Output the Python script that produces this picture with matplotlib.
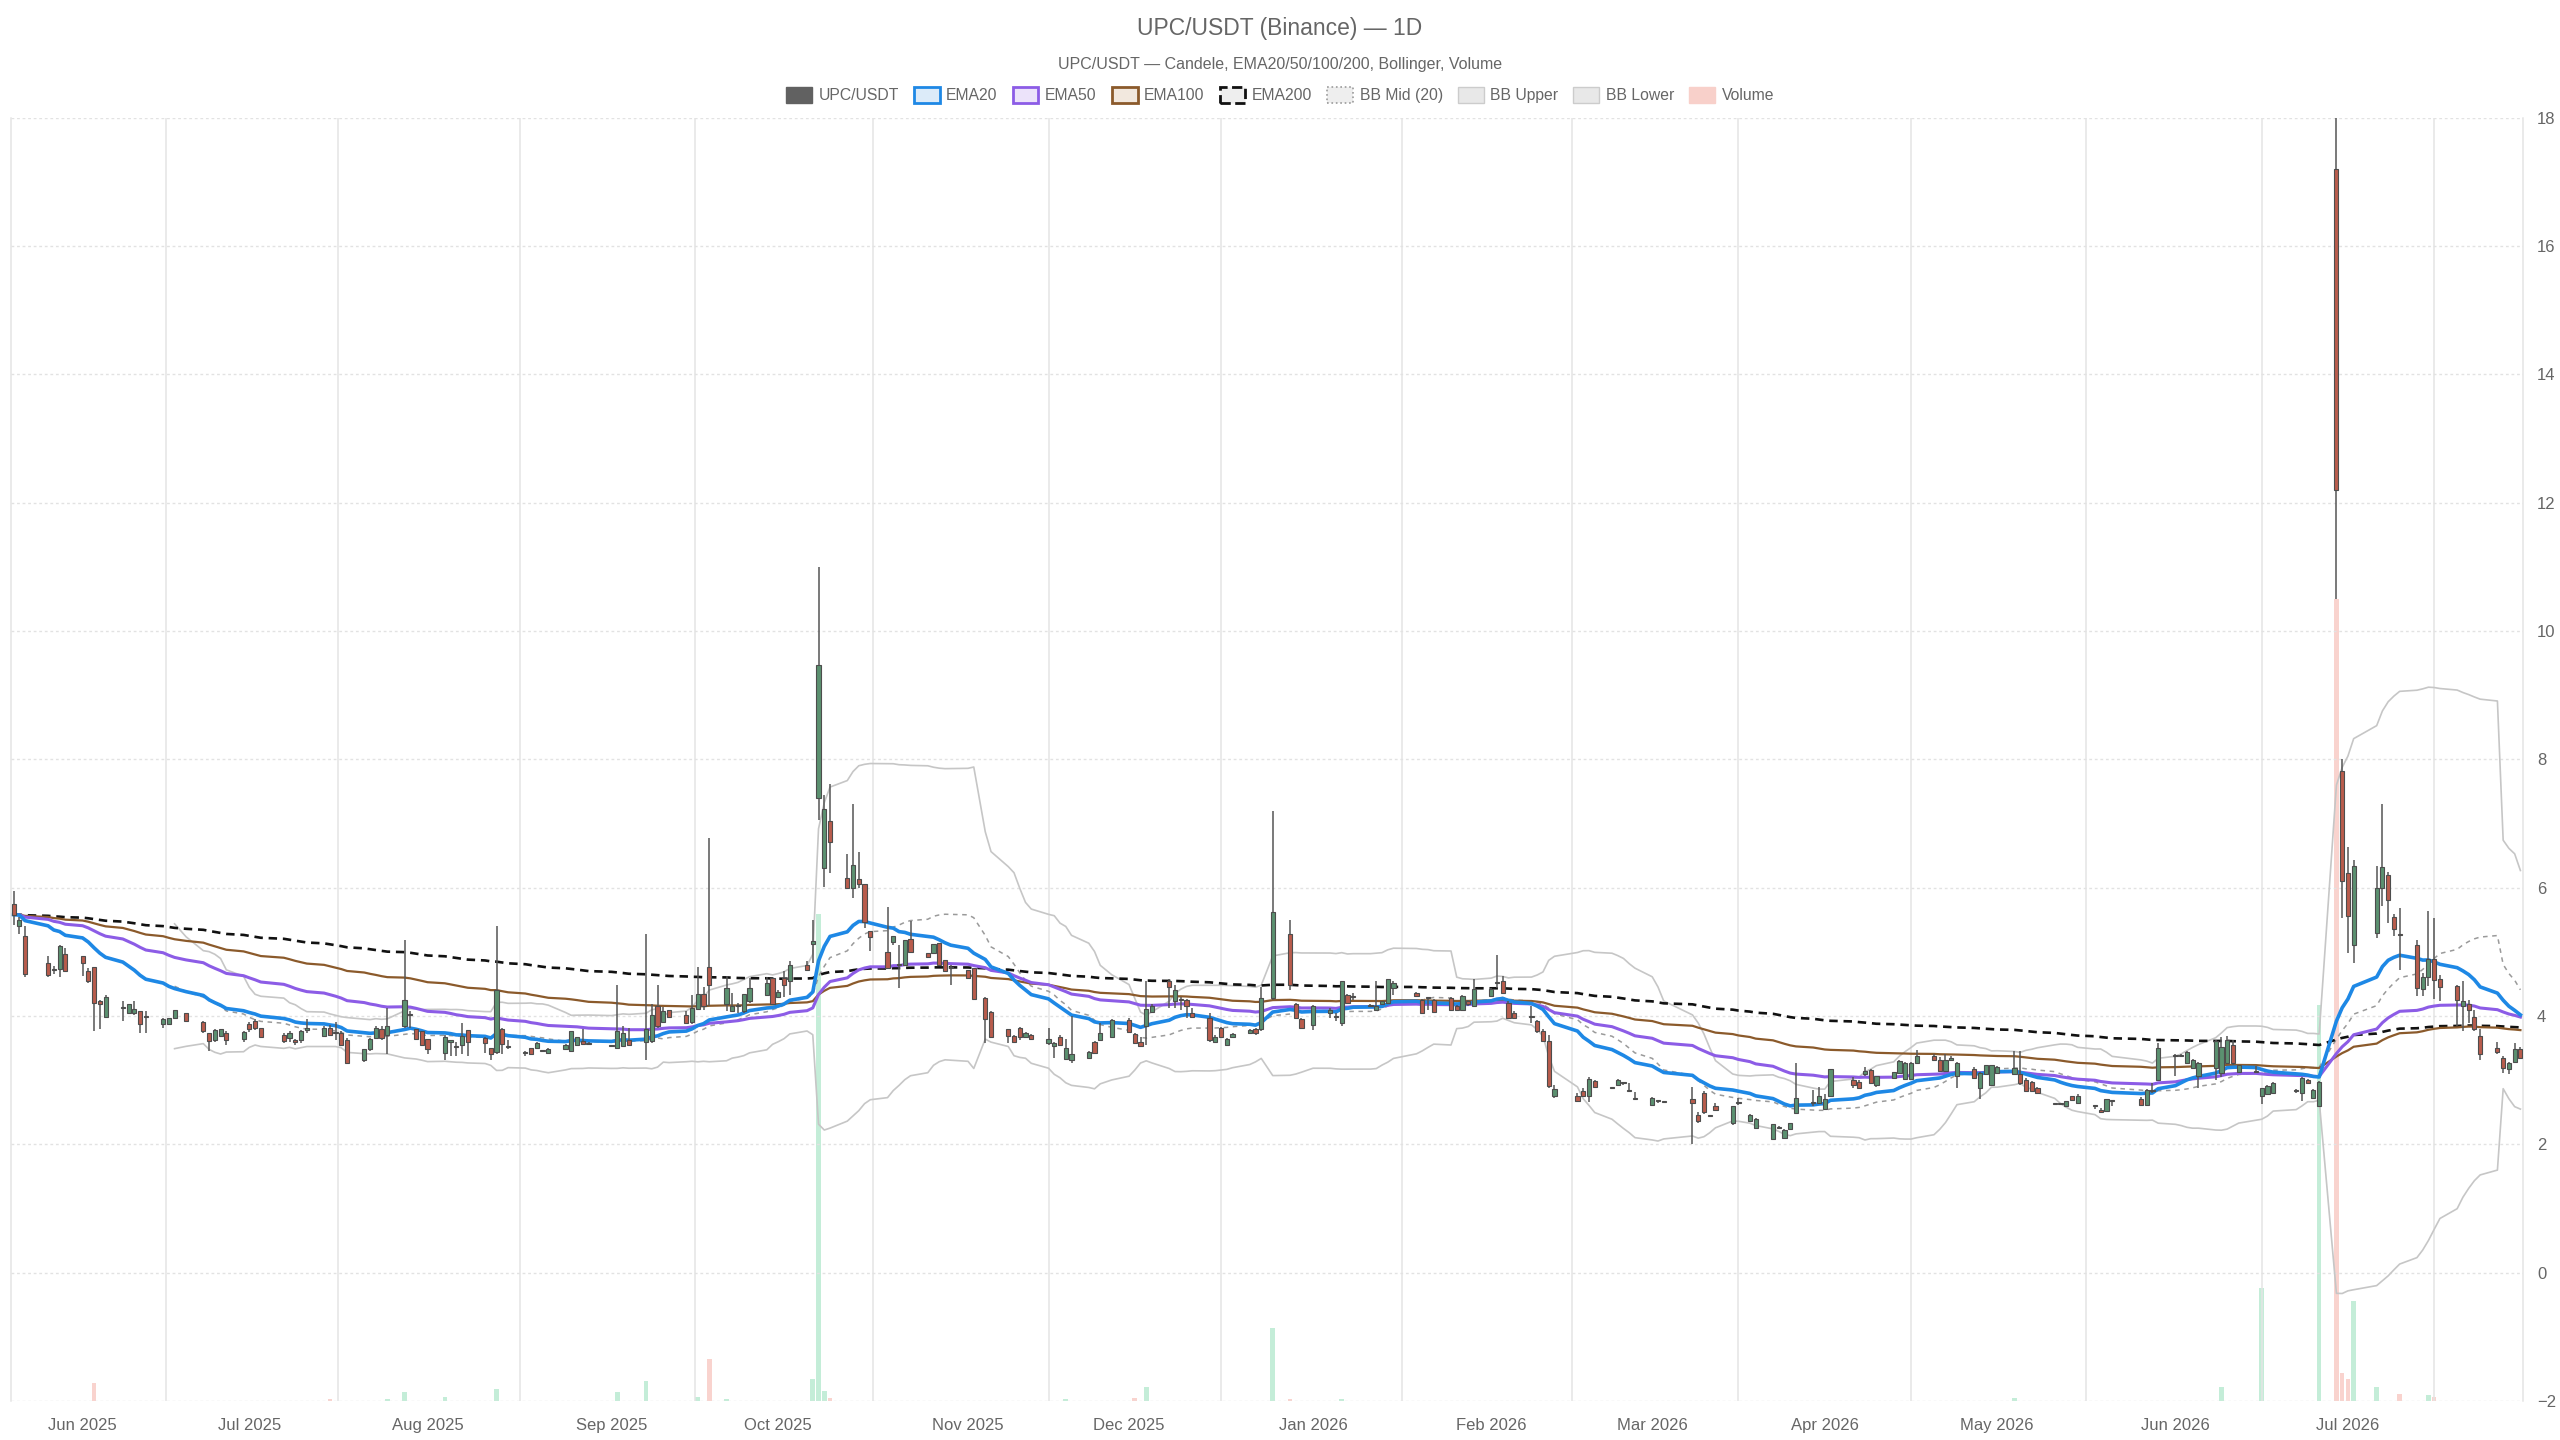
import pandas as pd
import numpy as np
import matplotlib
matplotlib.use('Agg')
import matplotlib.pyplot as plt
from matplotlib.patches import Patch

plt.rcParams['font.family'] = ['Liberation Sans', 'DejaVu Sans']

# trading days (weekdays, minus market holidays and days without data)
start = '2025-05-21'
end = '2026-07-31'
holidays = ['2025-05-26', '2025-06-19', '2025-07-04', '2025-09-01', '2025-11-27',
            '2025-12-25', '2026-01-01', '2026-01-19', '2026-02-16', '2026-04-03',
            '2026-05-25', '2026-06-19', '2026-07-03']
no_data = ['2025-11-05', '2026-03-05', '2026-03-06', '2026-03-18', '2026-05-22']

# one line per week
opens = [
    5.75, 5.41, 5.25,
    4.83, 4.72, 4.73, 4.96,
    4.93, 4.70, 4.77, 4.23, 3.99,
    4.13, 4.05, 4.05, 4.08, 3.99,
    3.88, 3.87, 3.97, 4.05,
    3.90, 3.74, 3.63, 3.69, 3.73,
    3.64, 3.88, 3.92, 3.81,
    3.71, 3.66, 3.63, 3.63, 3.78,
    3.69, 3.81, 3.73, 3.74, 3.63,
    3.31, 3.48, 3.66, 3.79, 3.71,
    3.84, 4.01, 3.80, 3.76, 3.64,
    3.42, 3.60, 3.52, 3.55, 3.78,
    3.65, 3.50, 3.44, 3.79, 3.51,
    3.43, 3.50, 3.50, 3.45, 3.43,
    3.49, 3.45, 3.55, 3.61, 3.57,
    3.53, 3.50, 3.53, 3.62,
    3.59, 3.61, 4.15, 3.91, 4.10,
    4.01, 3.90, 4.11, 4.34, 4.77,
    4.18, 4.07, 4.15, 4.07, 4.23,
    4.33, 4.59, 4.29, 4.59, 4.55,
    4.80, 5.12, 7.40, 6.30, 7.04,
    6.15, 5.99, 6.13, 6.05, 5.32,
    5.00, 5.16, 4.80, 4.80, 5.20,
    4.98, 4.98, 5.14, 4.88, 4.75,
    4.72, 4.75, 4.28, 4.06,
    3.80, 3.69, 3.81, 3.67, 3.71,
    3.58, 3.53, 3.67, 3.33, 3.32,
    3.35, 3.59, 3.63, 3.68,
    3.93, 3.72, 3.59, 3.84, 4.06,
    4.54, 4.23, 4.25, 4.25, 4.04,
    3.97, 3.60, 3.81, 3.55, 3.67,
    3.73, 3.79, 3.79, 4.28,
    5.27, 4.18, 3.95, 3.86,
    4.05, 3.98, 3.89, 4.32, 4.30,
    4.16, 4.09, 4.19, 4.21, 4.44,
    4.36, 4.25, 4.28, 4.25,
    4.28, 4.15, 4.10, 4.23, 4.16,
    4.31, 4.52, 4.55, 4.21, 4.05,
    3.98, 3.92, 3.76, 3.61, 2.75,
    2.76, 2.83, 2.75, 2.98,
    2.88, 2.93, 2.95, 2.83, 2.71,
    2.62, 2.67, 2.66,
    2.71, 2.45, 2.80, 2.44, 2.60,
    2.33, 2.65, 2.36, 2.26,
    2.08, 2.26, 2.10, 2.24, 2.49,
    2.65, 2.64, 2.55, 2.75,
    3.01, 2.97, 3.09, 3.16, 2.92,
    3.04, 3.11, 3.02, 3.02, 3.26,
    3.38, 3.32, 3.14, 3.32, 3.06,
    3.18, 2.88, 3.09, 2.93, 3.11,
    3.09, 3.09, 3.01, 2.97, 2.88,
    2.63, 2.63, 2.60, 2.75, 2.65,
    2.59, 2.54, 2.52, 2.67,
    2.71, 2.62, 2.83, 3.00,
    3.37, 3.38, 3.27, 3.19, 3.06,
    3.19, 3.11, 3.27, 3.54, 3.12,
    3.13, 2.75, 2.79, 2.80,
    2.83, 2.80, 3.01, 2.72, 2.59,
    17.2, 7.81, 6.23, 5.10,
    5.30, 5.99, 6.19, 5.54, 5.27,
    5.11, 4.42, 4.61, 4.89, 4.58,
    4.46, 4.15, 4.19, 3.99, 3.69,
    3.50, 3.35, 3.17, 3.29, 3.49,
]
highs = [
    5.94, 5.55, 5.40,
    4.93, 4.78, 5.11, 5.06,
    4.93, 4.74, 4.77, 4.25, 4.33,
    4.23, 4.18, 4.24, 4.08, 4.07,
    3.97, 3.97, 4.10, 4.05,
    3.92, 3.74, 3.80, 3.80, 3.76,
    3.77, 3.90, 3.95, 3.82,
    3.73, 3.76, 3.64, 3.78, 3.95,
    3.84, 3.86, 3.91, 3.76, 3.65,
    3.48, 3.66, 3.84, 3.84, 4.13,
    5.18, 4.07, 3.80, 3.77, 3.64,
    3.70, 3.63, 3.60, 3.89, 3.78,
    3.68, 3.50, 5.40, 3.81, 3.63,
    3.45, 3.50, 3.60, 3.47, 3.50,
    3.56, 3.77, 3.67, 3.79, 3.60,
    3.55, 4.49, 3.84, 3.82,
    5.27, 4.18, 4.49, 4.14, 4.10,
    4.07, 4.33, 4.77, 4.45, 6.78,
    4.62, 4.36, 4.20, 4.34, 4.59,
    4.60, 4.59, 4.40, 4.70, 4.85,
    4.86, 5.50, 11.0, 7.45, 7.62,
    6.53, 7.30, 6.56, 6.05, 5.32,
    5.70, 5.24, 5.11, 5.19, 5.48,
    4.98, 5.12, 5.14, 4.88, 4.80,
    4.72, 4.75, 4.30, 4.08,
    3.80, 3.70, 3.83, 3.75, 3.72,
    3.81, 3.60, 3.70, 3.64, 4.00,
    3.46, 3.61, 3.89, 3.95,
    3.97, 3.74, 3.68, 4.54, 4.18,
    4.57, 4.49, 4.30, 4.27, 4.12,
    4.05, 3.70, 3.83, 3.66, 3.74,
    3.80, 3.81, 4.45, 7.19,
    5.50, 4.20, 3.97, 4.17,
    4.12, 4.04, 4.55, 4.35, 4.36,
    4.18, 4.54, 4.24, 4.58, 4.54,
    4.38, 4.27, 4.30, 4.27,
    4.30, 4.17, 4.32, 4.25, 4.57,
    4.44, 4.95, 4.62, 4.23, 4.07,
    4.15, 3.94, 3.80, 3.70, 2.93,
    2.80, 2.87, 3.05, 3.00,
    2.90, 3.02, 2.97, 2.96, 2.81,
    2.73, 2.69, 2.68,
    2.90, 2.50, 2.83, 2.46, 2.65,
    2.60, 2.72, 2.47, 2.41,
    2.32, 2.28, 2.24, 2.34, 3.27,
    2.85, 2.90, 2.78, 3.18,
    3.05, 3.00, 3.20, 3.18, 3.07,
    3.13, 3.32, 3.28, 3.28, 3.47,
    3.40, 3.36, 3.40, 3.38, 3.29,
    3.20, 3.12, 3.24, 3.24, 3.22,
    3.45, 3.45, 3.03, 2.99, 2.90,
    2.65, 2.65, 2.68, 2.76, 2.78,
    2.62, 2.56, 2.71, 2.69,
    2.73, 2.86, 2.96, 3.58,
    3.40, 3.40, 3.45, 3.33, 3.28,
    3.63, 3.67, 3.69, 3.62, 3.24,
    3.22, 2.88, 2.92, 2.97,
    2.86, 3.05, 3.02, 2.86, 2.99,
    18.0, 8.00, 6.64, 6.43,
    6.34, 7.31, 6.25, 5.59, 5.68,
    5.19, 4.67, 5.63, 5.53, 4.64,
    4.49, 4.54, 4.25, 4.10, 3.79,
    3.60, 3.37, 3.28, 3.58, 3.52,
]
lows = [
    5.42, 5.28, 4.61,
    4.61, 4.66, 4.61, 4.68,
    4.62, 4.52, 3.76, 3.80, 3.99,
    3.92, 4.05, 4.02, 3.74, 3.74,
    3.81, 3.87, 3.97, 3.92,
    3.74, 3.45, 3.60, 3.67, 3.55,
    3.60, 3.75, 3.78, 3.65,
    3.58, 3.60, 3.55, 3.58, 3.73,
    3.67, 3.69, 3.63, 3.55, 3.25,
    3.29, 3.45, 3.64, 3.63, 3.40,
    3.81, 3.81, 3.63, 3.54, 3.40,
    3.32, 3.37, 3.37, 3.40, 3.37,
    3.42, 3.32, 3.40, 3.40, 3.48,
    3.37, 3.40, 3.50, 3.44, 3.42,
    3.48, 3.45, 3.55, 3.56, 3.56,
    3.52, 3.50, 3.51, 3.55,
    3.32, 3.58, 3.81, 3.89, 3.97,
    3.89, 3.88, 4.09, 4.10, 4.16,
    4.08, 4.07, 4.05, 4.05, 4.20,
    4.31, 4.19, 4.29, 4.30, 4.33,
    4.70, 4.83, 7.05, 6.01, 6.23,
    5.99, 5.84, 6.00, 5.37, 5.02,
    4.73, 5.10, 4.44, 4.78, 4.99,
    4.92, 4.98, 4.78, 4.70, 4.49,
    4.59, 4.26, 3.58, 3.65,
    3.58, 3.58, 3.63, 3.65, 3.62,
    3.55, 3.35, 3.53, 3.32, 3.27,
    3.33, 3.40, 3.61, 3.66,
    3.73, 3.56, 3.52, 3.55, 4.04,
    4.12, 4.12, 4.10, 3.97, 3.97,
    3.60, 3.58, 3.65, 3.53, 3.66,
    3.72, 3.70, 3.76, 4.25,
    4.40, 3.95, 3.79, 3.78,
    3.97, 3.92, 3.84, 4.20, 4.25,
    4.14, 4.08, 4.18, 4.20, 4.33,
    4.29, 4.04, 4.10, 4.04,
    4.08, 4.08, 4.08, 4.16, 4.15,
    4.29, 4.43, 4.34, 3.95, 3.95,
    3.89, 3.74, 3.60, 2.88, 2.72,
    2.66, 2.74, 2.66, 2.89,
    2.86, 2.92, 2.93, 2.81, 2.69,
    2.61, 2.65, 2.64,
    2.01, 2.33, 2.48, 2.42, 2.52,
    2.30, 2.62, 2.35, 2.25,
    2.07, 2.24, 2.09, 2.23, 2.48,
    2.60, 2.63, 2.54, 2.74,
    2.88, 2.86, 3.07, 2.94, 2.90,
    3.02, 3.10, 3.01, 3.01, 3.25,
    3.30, 3.12, 3.12, 3.30, 2.88,
    3.03, 2.70, 3.08, 2.92, 3.10,
    3.08, 2.93, 2.82, 2.82, 2.78,
    2.61, 2.61, 2.59, 2.68, 2.64,
    2.55, 2.50, 2.51, 2.59,
    2.61, 2.61, 2.80, 2.98,
    3.06, 3.36, 3.26, 3.18, 2.88,
    3.00, 3.05, 3.25, 3.24, 3.11,
    3.11, 2.63, 2.78, 2.79,
    2.80, 2.67, 2.95, 2.71, 2.58,
    10.5, 5.53, 4.98, 4.82,
    5.22, 5.72, 5.45, 5.24, 4.72,
    4.31, 4.31, 4.46, 4.26, 4.23,
    3.84, 3.76, 3.89, 3.76, 3.32,
    3.40, 3.11, 3.10, 3.27, 3.33,
]
closes = [
    5.58, 5.50, 4.66,
    4.64, 4.72, 5.09, 4.70,
    4.83, 4.54, 4.21, 4.19, 4.30,
    4.13, 4.18, 4.11, 3.88, 3.99,
    3.95, 3.97, 4.10, 3.92,
    3.76, 3.61, 3.78, 3.79, 3.63,
    3.75, 3.79, 3.81, 3.68,
    3.61, 3.73, 3.59, 3.76, 3.81,
    3.81, 3.71, 3.73, 3.55, 3.26,
    3.48, 3.64, 3.81, 3.66, 3.84,
    4.25, 4.01, 3.64, 3.54, 3.48,
    3.68, 3.62, 3.52, 3.69, 3.59,
    3.58, 3.41, 4.40, 3.57, 3.51,
    3.43, 3.40, 3.58, 3.45, 3.49,
    3.55, 3.77, 3.67, 3.56, 3.57,
    3.53, 3.76, 3.74, 3.55,
    3.79, 4.01, 3.84, 4.07, 3.99,
    3.89, 4.13, 4.35, 4.15, 4.49,
    4.44, 4.15, 4.15, 4.34, 4.44,
    4.51, 4.19, 4.38, 4.49, 4.80,
    4.72, 5.17, 9.47, 7.23, 6.71,
    5.99, 6.36, 6.06, 5.46, 5.23,
    4.75, 5.24, 4.80, 5.19, 4.99,
    4.92, 5.12, 4.80, 4.70, 4.75,
    4.59, 4.26, 3.95, 3.67,
    3.69, 3.60, 3.67, 3.73, 3.64,
    3.64, 3.58, 3.55, 3.50, 3.40,
    3.44, 3.42, 3.74, 3.94,
    3.75, 3.58, 3.53, 4.11, 4.16,
    4.45, 4.41, 4.25, 4.16, 3.99,
    3.62, 3.68, 3.67, 3.64, 3.72,
    3.78, 3.73, 4.28, 5.62,
    4.48, 3.97, 3.81, 4.15,
    4.09, 3.98, 4.55, 4.21, 4.30,
    4.16, 4.16, 4.23, 4.58, 4.51,
    4.31, 4.05, 4.28, 4.06,
    4.10, 4.10, 4.31, 4.18, 4.42,
    4.42, 4.52, 4.36, 3.97, 3.97,
    3.98, 3.76, 3.61, 2.91, 2.86,
    2.67, 2.75, 3.02, 2.90,
    2.88, 3.00, 2.95, 2.83, 2.71,
    2.72, 2.67, 2.66,
    2.65, 2.36, 2.50, 2.44, 2.53,
    2.59, 2.65, 2.46, 2.40,
    2.31, 2.26, 2.23, 2.33, 2.72,
    2.65, 2.75, 2.71, 3.17,
    2.92, 2.88, 3.14, 2.95, 3.06,
    3.12, 3.30, 3.27, 3.26, 3.37,
    3.32, 3.14, 3.32, 3.35, 3.27,
    3.04, 3.11, 3.23, 3.23, 3.21,
    3.19, 2.96, 2.83, 2.83, 2.80,
    2.63, 2.63, 2.67, 2.69, 2.76,
    2.59, 2.51, 2.70, 2.67,
    2.62, 2.85, 2.83, 3.50,
    3.37, 3.38, 3.44, 3.32, 3.27,
    3.61, 3.52, 3.63, 3.26, 3.23,
    3.13, 2.88, 2.91, 2.96,
    2.83, 3.04, 2.96, 2.85, 2.97,
    12.2, 6.10, 5.56, 6.33,
    5.99, 6.32, 5.80, 5.35, 5.26,
    4.44, 4.61, 4.89, 4.56, 4.45,
    4.25, 4.23, 4.10, 3.79, 3.40,
    3.44, 3.19, 3.26, 3.48, 3.35,
]

# visible volume bars (thousands); the rest are too small to see
vol_dates = ['2025-06-04', '2025-07-15', '2025-07-25', '2025-07-28', '2025-08-04',
             '2025-08-13', '2025-09-03', '2025-09-08', '2025-09-17', '2025-09-19',
             '2025-09-22', '2025-10-07', '2025-10-08', '2025-10-09', '2025-10-10',
             '2025-11-20', '2025-12-02', '2025-12-04', '2025-12-26', '2025-12-29',
             '2026-01-07', '2026-05-04', '2026-06-09', '2026-06-16', '2026-06-26',
             '2026-06-29', '2026-06-30', '2026-07-01', '2026-07-02', '2026-07-06',
             '2026-07-10', '2026-07-15', '2026-07-16']
vol_values = [177, 23, 23, 90, 43, 123, 93, 197, 43, 423,
              20, 223, 4890, 100, 30, 17, 30, 137, 733, 23,
              23, 33, 143, 1130, 3970, 8050, 280, 220, 1000, 140,
              70, 60, 40]

# ---- prepare
t0 = pd.Timestamp(start)
dates = pd.bdate_range(start, end)
dates = dates[~dates.isin(pd.to_datetime(holidays + no_data))]
assert len(dates) == len(closes) == len(opens) == len(highs) == len(lows), (len(dates), len(closes))
x = np.asarray((dates - t0).days, dtype=float)

o = np.array(opens); h = np.array(highs); l = np.array(lows); c = np.array(closes)
s = pd.Series(c)
ema = {n: s.ewm(span=n, adjust=False).mean().values for n in (20, 50, 100, 200)}
bb_mid = s.rolling(20).mean()
bb_std = s.rolling(20).std(ddof=0)
bb_up = (bb_mid + 2 * bb_std).values
bb_lo = (bb_mid - 2 * bb_std).values
bb_mid = bb_mid.values

# month ticks sit on the first trading day of each month (from Jun 2025)
first_days = dates.to_series().groupby(dates.to_period('M')).first()
first_days = first_days[first_days.index >= pd.Period('2025-06', 'M')]
tick_x = [(d - t0).days for d in first_days]
tick_lab = [d.strftime('%b %Y') for d in first_days]

up_col, dn_col, flat_col = '#5b9170', '#b95c4c', '#8c8c8c'
edge_col = '#4d4d4d'

# ---- figure
fig = plt.figure(figsize=(25.6, 14.4), dpi=100)
rect = [11 / 2560, 1 - 1401 / 1440, (2523 - 11) / 2560, (1401 - 117.6) / 1440]
vax = fig.add_axes(rect)
ax = fig.add_axes(rect, sharex=vax)
ax.patch.set_visible(False)

# volume (own hidden scale)
idx = {d: i for i, d in enumerate(dates)}
vx, vcol = [], []
for d in pd.to_datetime(vol_dates):
    i = idx[d]
    vx.append(x[i])
    vcol.append((0.18, 0.75, 0.45, 0.28) if c[i] >= o[i] else (0.93, 0.38, 0.32, 0.28))
vax.bar(vx, vol_values, width=0.8, color=vcol, linewidth=0)
vax.set_ylim(0, max(vol_values) * 1.6)
vax.axis('off')

# grid: vertical lines halfway between month ticks (last one extrapolated)
grid_x = [(a + b) / 2 for a, b in zip(tick_x[:-1], tick_x[1:])]
grid_x.append(tick_x[-1] + (tick_x[-1] - tick_x[-2]) / 2)
for gx in grid_x:
    ax.axvline(gx, color='#e4e4e4', lw=1.1, zorder=0.5)
for yv in range(-2, 19, 2):
    ax.axhline(yv, color='#e2e2e2', lw=1.0, ls=(0, (2, 2)), zorder=0.5)

# bollinger
ax.plot(x, bb_up, color='#c6c6c6', lw=1.2, zorder=2)
ax.plot(x, bb_lo, color='#c6c6c6', lw=1.2, zorder=2)
ax.plot(x, bb_mid, color='#9a9a9a', lw=1.1, ls=(0, (3, 3)), zorder=2.1)

# emas
ax.plot(x, ema[200], color='#111111', lw=1.9, ls=(0, (3.2, 2.2)), zorder=3)
ax.plot(x, ema[100], color='#8b5a2b', lw=1.6, zorder=3.1)
ax.plot(x, ema[50], color='#8c5ce6', lw=2.2, zorder=3.2)
ax.plot(x, ema[20], color='#1e88e5', lw=2.6, zorder=3.3)

# candles
cols = np.where(c > o, up_col, np.where(c < o, dn_col, flat_col))
ax.vlines(x, l, h, color='#555555', lw=1.1, zorder=4)
body_lo = np.minimum(o, c)
body_h = np.maximum(np.abs(c - o), 0.015)
ax.bar(x, body_h, bottom=body_lo, width=0.72, color=cols, edgecolor=edge_col,
       linewidth=0.8, zorder=4.1)

# axes
ax.set_xlim(-0.45, x[-1] + 0.45)
ax.set_ylim(-2, 18)
ax.yaxis.tick_right()
ax.set_yticks(range(-2, 19, 2))
ax.tick_params(axis='y', length=0, pad=10, labelsize=12, labelcolor='#666666')
ax.set_xticks(tick_x)
ax.set_xticklabels(tick_lab)
ax.tick_params(axis='x', length=0, pad=12, labelsize=12, labelcolor='#666666')
for side in ('top', 'bottom'):
    ax.spines[side].set_visible(False)
for side in ('left', 'right'):
    ax.spines[side].set_color('#e4e4e4')
    ax.spines[side].set_linewidth(1.1)

# titles
fig.text(0.5, 1 - 28 / 1440, 'UPC/USDT (Binance) — 1D', ha='center', va='center',
         fontsize=16.5, color='#666666')
fig.text(0.5, 1 - 65 / 1440, 'UPC/USDT — Candele, EMA20/50/100/200, Bollinger, Volume',
         ha='center', va='center', fontsize=11.5, color='#666666')

handles = [
    Patch(facecolor='#616161', edgecolor='#616161', label='UPC/USDT'),
    Patch(facecolor='#dcebf9', edgecolor='#1e88e5', lw=2, label='EMA20'),
    Patch(facecolor='#ece3fa', edgecolor='#8c5ce6', lw=2, label='EMA50'),
    Patch(facecolor='#f2e8de', edgecolor='#8b5a2b', lw=2, label='EMA100'),
    Patch(facecolor='#eeeeee', edgecolor='#111111', lw=2, ls='--', label='EMA200'),
    Patch(facecolor='#eeeeee', edgecolor='#9a9a9a', lw=1.2, ls=':', label='BB Mid (20)'),
    Patch(facecolor='#e8e8e8', edgecolor='#cccccc', lw=1, label='BB Upper'),
    Patch(facecolor='#e8e8e8', edgecolor='#cccccc', lw=1, label='BB Lower'),
    Patch(facecolor='#f8d0ca', edgecolor='#f8d0ca', label='Volume'),
]
fig.legend(handles=handles, loc='center', bbox_to_anchor=(0.5, 1 - 95 / 1440), ncol=9,
           frameon=False, fontsize=11.3, handlelength=1.65, handleheight=1.15,
           handletextpad=0.42, columnspacing=0.95, labelcolor='#666666')

fig.savefig('out.png', dpi=100)
